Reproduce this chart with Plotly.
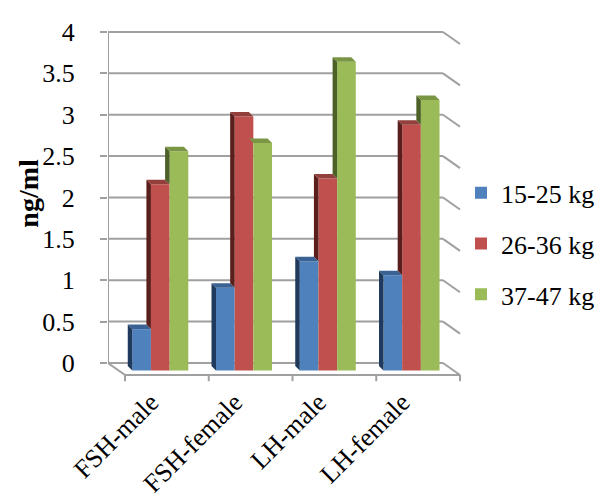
import plotly.graph_objects as go

# ---------------- data ----------------
categories = ["FSH-male", "FSH-female", "LH-male", "LH-female"]
series_names = ["15-25 kg", "26-36 kg", "37-47 kg"]
vals_15_25 = [0.50, 1.00, 1.32, 1.15]
vals_26_36 = [2.25, 3.07, 2.32, 2.97]
vals_37_47 = [2.65, 2.75, 3.73, 3.27]
y_ticks = [0, 0.5, 1, 1.5, 2, 2.5, 3, 3.5, 4]
y_tick_text = ["0", "0.5", "1", "1.5", "2", "2.5", "3", "3.5", "4"]

series_values = [vals_15_25, vals_26_36, vals_37_47]
front_colors = ["#4F81BD", "#C0504D", "#9BBB59"]
side_colors = ["#1F3A5C", "#5A1E1D", "#4C6027"]
top_colors = ["#3A6294", "#93403D", "#7A9645"]

# ---------------- 3-D look parameters (data units) ----------------
X_RANGE = [-0.5, 3.7507]
Y_RANGE = [-0.278, 4.0483]
DX, DY = 0.203, 0.145      # full floor depth
FX, FY = 0.124, 0.0906     # offset of bar front plane from back wall
BX, BY = 0.0537, 0.0544    # bar depth
BAR_W = 0.223
GRID_COLOR = "#A0A0A0"
FONT = "Times New Roman, Liberation Serif, serif"
FS = 26

n_cat = len(categories)
fig = go.Figure()

# front faces as real bars
for s, (name, vals) in enumerate(zip(series_names, series_values)):
    xs = [c + FX + (s - 1) * BAR_W for c in range(n_cat)]
    fig.add_trace(go.Bar(
        x=xs, y=vals, base=[-FY] * n_cat, width=BAR_W, name=name,
        marker=dict(color=front_colors[s], line=dict(width=0)),
        legendgroup=name, hoverinfo="name+y",
    ))

# side and top faces
for s, vals in enumerate(series_values):
    sx, sy, tx, ty = [], [], [], []
    for c in range(n_cat):
        xc = c + FX + (s - 1) * BAR_W
        xl, xr = xc - BAR_W / 2, xc + BAR_W / 2
        top = vals[c] - FY
        bot = -FY
        if s > 0:
            bot = max(bot, series_values[s - 1][c] - FY)
        if top > bot:
            sx += [xl, xl, xl - BX, xl - BX, xl, None]
            sy += [bot, top, top + BY, bot + BY, bot, None]
        tx += [xl, xr, xr - BX, xl - BX, xl, None]
        ty += [top, top, top + BY, top + BY, top, None]
    fig.add_trace(go.Scatter(x=sx, y=sy, mode="lines", fill="toself",
                             fillcolor=side_colors[s], line=dict(width=0),
                             showlegend=False, hoverinfo="skip"))
    fig.add_trace(go.Scatter(x=tx, y=ty, mode="lines", fill="toself",
                             fillcolor=top_colors[s], line=dict(width=0),
                             showlegend=False, hoverinfo="skip"))

# walls, gridlines, floor
shapes = []
x0, x1 = -0.5, n_cat - 0.5
for t in y_ticks:
    shapes.append(dict(type="line", x0=x0, x1=x1, y0=t, y1=t,
                       line=dict(color=GRID_COLOR, width=2), layer="below"))
    shapes.append(dict(type="line", x0=x1, x1=x1 + DX, y0=t, y1=t - DY,
                       line=dict(color=GRID_COLOR, width=2), layer="below"))
shapes.append(dict(type="line", x0=x0, x1=x0, y0=0, y1=y_ticks[-1],
                   line=dict(color=GRID_COLOR, width=2), layer="below"))
shapes.append(dict(type="line", x0=x0, x1=x0 + DX, y0=0, y1=-DY,
                   line=dict(color=GRID_COLOR, width=2), layer="below"))
shapes.append(dict(type="line", x0=x0 + DX, x1=x1 + DX, y0=-DY, y1=-DY,
                   line=dict(color=GRID_COLOR, width=2), layer="below"))
for k in range(n_cat + 1):
    xk = k - 0.5 + DX
    shapes.append(dict(type="line", x0=xk, x1=xk, y0=-DY, y1=-DY - 0.075,
                       line=dict(color=GRID_COLOR, width=2), layer="below"))

fig.update_layout(
    width=604, height=497,
    margin=dict(l=100, r=148, t=20, b=119, autoexpand=False),
    paper_bgcolor="white", plot_bgcolor="white",
    barmode="overlay",
    shapes=shapes,
    font=dict(family=FONT, size=FS, color="black"),
    xaxis=dict(range=X_RANGE, showgrid=False, zeroline=False, showline=False,
               tickmode="array", tickvals=[c + DX for c in range(n_cat)],
               ticktext=categories, tickangle=-45, ticks="",
               ticklabelshift=-16, ticklabelstandoff=-5,
               tickfont=dict(family=FONT, size=FS, color="black")),
    yaxis=dict(range=Y_RANGE, showgrid=False, zeroline=False, showline=False,
               tickmode="array", tickvals=y_ticks, ticktext=y_tick_text,
               ticks="outside", ticklen=7, tickwidth=2, tickcolor=GRID_COLOR,
               ticklabelstandoff=20,
               tickfont=dict(family=FONT, size=FS, color="black")),
    legend=dict(x=0.9916, xanchor="left", y=0.397, yanchor="middle",
                font=dict(family=FONT, size=FS, color="black"),
                tracegroupgap=14, bgcolor="rgba(0,0,0,0)"),
    annotations=[dict(text="<b>ng/ml</b>", textangle=-90, showarrow=False,
                      xref="paper", yref="paper", x=-0.222, y=0.54,
                      xanchor="center", yanchor="middle",
                      font=dict(family=FONT, size=28, color="black"))],
)

fig.write_html("out.html")
